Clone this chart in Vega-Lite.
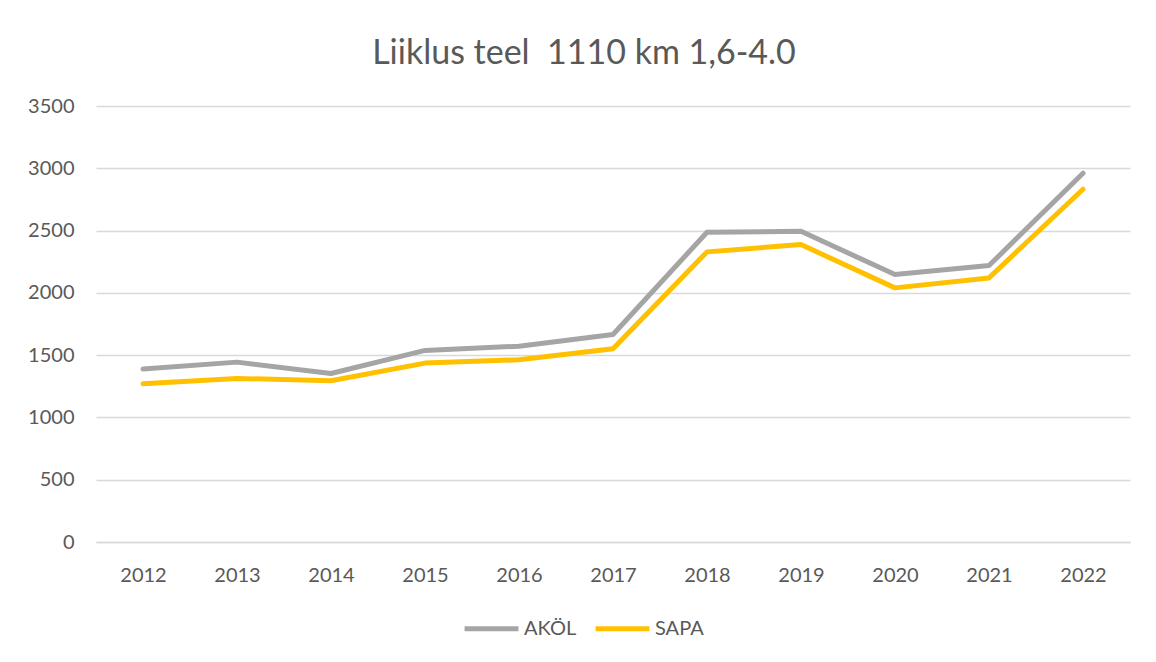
{
  "$schema": "https://vega.github.io/schema/vega-lite/v6.json",
  "autosize": "none",
  "width": 1034,
  "height": 436,
  "padding": {"left": 96, "top": 106, "right": 26, "bottom": 120},
  "background": "white",
  "title": {
    "text": "Liiklus teel\u00a0 1110 km 1,6-4.0",
    "font": "Lato",
    "fontSize": 34,
    "fontWeight": "normal",
    "color": "#595959",
    "anchor": "middle",
    "dx": -29,
    "offset": 25
  },
  "config": {
    "view": {"stroke": null},
    "axis": {
      "labelFont": "Lato",
      "labelFontSize": 20,
      "labelColor": "#595959",
      "gridColor": "#D9D9D9",
      "gridWidth": 1.3,
      "ticks": false,
      "title": null
    },
    "legend": {
      "labelFont": "Lato",
      "labelFontSize": 20,
      "labelColor": "#595959"
    }
  },
  "data": {
    "values": [
      {"year": "2012", "series": "AKÖL", "value": 1388},
      {"year": "2013", "series": "AKÖL", "value": 1444},
      {"year": "2014", "series": "AKÖL", "value": 1353},
      {"year": "2015", "series": "AKÖL", "value": 1538},
      {"year": "2016", "series": "AKÖL", "value": 1572},
      {"year": "2017", "series": "AKÖL", "value": 1666},
      {"year": "2018", "series": "AKÖL", "value": 2486},
      {"year": "2019", "series": "AKÖL", "value": 2494},
      {"year": "2020", "series": "AKÖL", "value": 2147},
      {"year": "2021", "series": "AKÖL", "value": 2219},
      {"year": "2022", "series": "AKÖL", "value": 2960},
      {"year": "2012", "series": "SAPA", "value": 1271},
      {"year": "2013", "series": "SAPA", "value": 1313},
      {"year": "2014", "series": "SAPA", "value": 1294},
      {"year": "2015", "series": "SAPA", "value": 1436},
      {"year": "2016", "series": "SAPA", "value": 1463},
      {"year": "2017", "series": "SAPA", "value": 1551},
      {"year": "2018", "series": "SAPA", "value": 2329},
      {"year": "2019", "series": "SAPA", "value": 2388},
      {"year": "2020", "series": "SAPA", "value": 2040},
      {"year": "2021", "series": "SAPA", "value": 2120},
      {"year": "2022", "series": "SAPA", "value": 2832}
    ]
  },
  "mark": {"type": "line", "strokeWidth": 5, "strokeCap": "round", "strokeJoin": "round"},
  "encoding": {
    "x": {
      "field": "year",
      "type": "ordinal",
      "scale": {"type": "point", "padding": 0.5},
      "axis": {"labelAngle": 0, "labelPadding": 23, "domain": true, "domainColor": "#D9D9D9", "domainWidth": 1.3, "grid": false}
    },
    "y": {
      "field": "value",
      "type": "quantitative",
      "scale": {"domain": [0, 3500], "nice": false},
      "axis": {"values": [0, 500, 1000, 1500, 2000, 2500, 3000, 3500], "domain": false, "labelPadding": 22, "format": "d"}
    },
    "color": {
      "field": "series",
      "type": "nominal",
      "scale": {"domain": ["AKÖL", "SAPA"], "range": ["#A5A5A5", "#FFC000"]},
      "legend": {
        "title": null,
        "orient": "none",
        "legendX": 366,
        "legendY": 493,
        "direction": "horizontal",
        "symbolType": "stroke",
        "symbolSize": 2900,
        "symbolStrokeWidth": 5,
        "labelOffset": 3,
        "columnPadding": 8
      }
    }
  }
}
